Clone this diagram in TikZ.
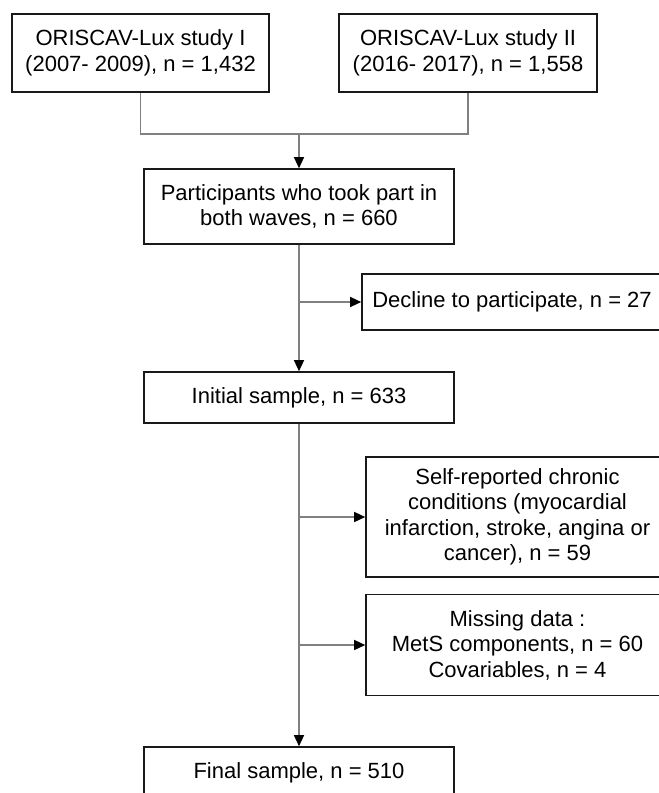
\documentclass[tikz,border=0pt]{standalone}
\usepackage{fontspec}
\setmainfont{Liberation Sans}
\usetikzlibrary{arrows.meta,positioning}

\begin{document}
\begin{tikzpicture}[x=1pt,y=-1pt,
	box/.style={draw=black!90,line width=1.6pt,align=center,inner sep=0pt,font=\fontsize{22}{25.5}\selectfont},
	link/.style={draw=black!50,line width=1.3pt},
	arr/.style={link,-{Triangle[black,length=11pt,width=10pt]}}]
	\useasboundingbox (0,0) rectangle (659,793);
	\clip (0,0) rectangle (659,793);
	\node[box,minimum width=257pt,minimum height=78pt] (A) at (140.5,53) {ORISCAV-Lux study I\\ (2007- 2009), n = 1,432};
	\node[box,minimum width=258pt,minimum height=78pt] (B) at (468,53) {ORISCAV-Lux study II\\ (2016- 2017), n = 1,558};
	\node[box,minimum width=310pt,minimum height=75pt] (C) at (299,206.5) {Participants who took part in\\ both waves, n = 660};
	\node[box,minimum width=300pt,minimum height=56pt] (D) at (512,302) {Decline to participate, n = 27};
	\node[box,minimum width=310pt,minimum height=51pt] (E) at (299,397.5) {Initial sample, n = 633};
	\node[box,minimum width=303pt,minimum height=120pt] (F) at (517.5,517) {Self-reported chronic\\ conditions (myocardial\\ infarction, stroke, angina or\\ cancer), n = 59};
	\node[box,minimum width=303pt,minimum height=101pt] (G) at (517.5,645) {Missing data :\\ MetS components, n = 60\\ Covariables, n = 4};
	\node[box,minimum width=310pt,minimum height=51pt] (H) at (299,772.5) {Final sample, n = 510};
	\coordinate (J) at (299,134);
	\draw[link] (A.south) |- (J) -| (B.south);
	\draw[arr] (J) -- (C.north);
	\draw[arr] (C.south) -- (E.north);
	\draw[arr] (C.south |- D.west) -- (D.west);
	\draw[arr] (E.south) -- (H.north);
	\draw[arr] (E.south |- F.west) -- (F.west);
	\draw[arr] (E.south |- G.west) -- (G.west);
\end{tikzpicture}
\end{document}
